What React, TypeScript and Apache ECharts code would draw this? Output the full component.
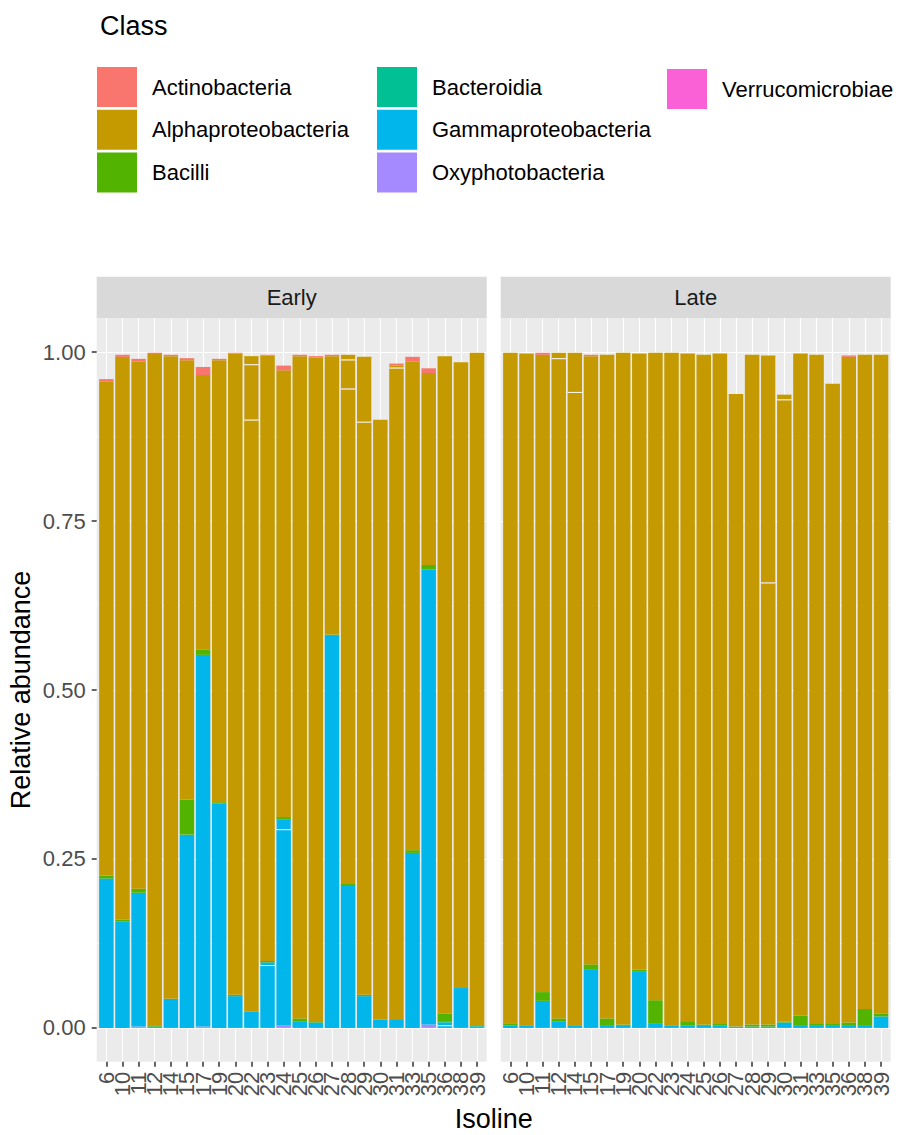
import React, { useEffect, useRef } from 'react';
import * as echarts from 'echarts';

// ---------- data ----------
const categories = ['6', '10', '11', '12', '14', '15', '17', '19', '20', '22', '23', '24', '25', '26', '27', '28', '29', '30', '31', '33', '35', '36', '38', '39'];
const panels = ['Early', 'Late'];
const classes = ['Actinobacteria', 'Alphaproteobacteria', 'Bacilli', 'Bacteroidia', 'Gammaproteobacteria', 'Oxyphotobacteria', 'Verrucomicrobiae'];
const classColors = ['#F8766D', '#C49A00', '#53B400', '#00C094', '#00B6EB', '#A58AFF', '#FB61D7'];
const yTickValues = [0, 0.25, 0.5, 0.75, 1];

// Early (second / third arrays of a class are extra rows of that class stacked above the first)
const earlyVerruco = [0, 0, 0, 0, 0, 0, 0, 0, 0, 0, 0, 0, 0, 0, 0, 0, 0, 0, 0, 0, 0, 0, 0, 0];
const earlyOxy = [0, 0, 0.002, 0, 0, 0, 0.002, 0, 0, 0, 0, 0.004, 0, 0, 0, 0, 0, 0, 0, 0, 0.005, 0, 0, 0];
const earlyGamma = [0.221, 0.158, 0.198, 0.002, 0.043, 0.286, 0.55, 0.332, 0.047, 0.024, 0.093, 0.29, 0.01, 0.008, 0.58, 0.21, 0.047, 0.012, 0.013, 0.259, 0.673, 0.004, 0.059, 0.002];
const earlyGamma2 = [0, 0, 0, 0, 0, 0, 0, 0, 0, 0, 0.004, 0.014, 0, 0, 0, 0, 0, 0, 0, 0, 0, 0.004, 0, 0];
const earlyBacteroidia = [0, 0, 0, 0, 0, 0, 0, 0, 0, 0, 0, 0, 0, 0, 0, 0, 0, 0, 0, 0, 0, 0.002, 0, 0.001];
const earlyBacilli = [0.004, 0.002, 0.006, 0.002, 0, 0.052, 0.008, 0.002, 0.002, 0, 0.002, 0.004, 0.004, 0.002, 0.002, 0.003, 0.002, 0, 0, 0.004, 0.007, 0.011, 0, 0];
const earlyAlpha = [0.732, 0.833, 0.78, 0.993, 0.951, 0.65, 0.406, 0.654, 0.949, 0.876, 0.896, 0.661, 0.98, 0.982, 0.412, 0.733, 0.848, 0.888, 0.964, 0.723, 0.284, 0.973, 0.926, 0.996];
const earlyAlpha2 = [0, 0, 0, 0, 0, 0, 0, 0, 0, 0.082, 0, 0, 0, 0, 0, 0.043, 0.096, 0, 0.003, 0, 0, 0, 0, 0];
const earlyAlpha3 = [0, 0, 0, 0, 0, 0, 0, 0, 0, 0.012, 0, 0, 0, 0, 0, 0.007, 0, 0, 0, 0, 0, 0, 0, 0];
const earlyActino = [0.003, 0.003, 0.004, 0.002, 0.002, 0.003, 0.012, 0.002, 0.001, 0, 0.001, 0.007, 0.002, 0.002, 0.002, 0, 0, 0, 0.003, 0.007, 0.007, 0, 0, 0];

// Late
const lateVerruco = [0, 0, 0, 0, 0, 0, 0, 0, 0, 0, 0, 0, 0, 0, 0, 0, 0, 0, 0, 0, 0, 0, 0, 0];
const lateOxy = [0, 0, 0, 0, 0, 0, 0, 0, 0, 0, 0, 0, 0, 0, 0, 0, 0, 0, 0, 0, 0, 0, 0, 0];
const lateGamma = [0.004, 0.003, 0.04, 0.01, 0.004, 0.087, 0.003, 0.003, 0.084, 0.006, 0.003, 0.004, 0.003, 0.004, 0.002, 0.002, 0.002, 0.008, 0.003, 0.003, 0.003, 0.003, 0.003, 0.017];
const lateGamma2 = [0, 0, 0, 0, 0, 0, 0, 0, 0, 0, 0, 0, 0, 0, 0, 0, 0, 0, 0, 0, 0, 0, 0, 0];
const lateBacteroidia = [0, 0, 0, 0, 0, 0, 0, 0, 0, 0, 0, 0, 0, 0, 0, 0, 0, 0, 0, 0, 0, 0, 0, 0];
const lateBacilli = [0.003, 0.001, 0.013, 0.004, 0, 0.007, 0.011, 0.002, 0.002, 0.035, 0.001, 0.006, 0.002, 0.003, 0, 0.003, 0.003, 0.001, 0.015, 0.004, 0.004, 0.005, 0.025, 0.004];
const lateAlpha = [0.992, 0.994, 0.943, 0.977, 0.937, 0.9, 0.982, 0.994, 0.912, 0.958, 0.995, 0.987, 0.991, 0.991, 0.936, 0.991, 0.654, 0.921, 0.98, 0.989, 0.946, 0.985, 0.968, 0.975];
const lateAlpha2 = [0, 0, 0, 0.008, 0.058, 0, 0, 0, 0, 0, 0, 0, 0, 0, 0, 0, 0.336, 0.007, 0, 0, 0, 0, 0, 0];
const lateAlpha3 = [0, 0, 0, 0, 0, 0, 0, 0, 0, 0, 0, 0, 0, 0, 0, 0, 0, 0, 0, 0, 0, 0, 0, 0];
const lateActino = [0, 0, 0.003, 0, 0, 0.002, 0, 0, 0, 0, 0, 0.001, 0, 0, 0, 0, 0, 0, 0, 0, 0, 0.002, 0, 0];

type Layer = { cls: number; data: number[]; seam: boolean };
// stacking order bottom -> top
const earlyLayers: Layer[] = [
  { cls: 6, data: earlyVerruco, seam: false },
  { cls: 5, data: earlyOxy, seam: false },
  { cls: 4, data: earlyGamma, seam: false },
  { cls: 4, data: earlyGamma2, seam: true },
  { cls: 3, data: earlyBacteroidia, seam: false },
  { cls: 2, data: earlyBacilli, seam: false },
  { cls: 1, data: earlyAlpha, seam: false },
  { cls: 1, data: earlyAlpha2, seam: true },
  { cls: 1, data: earlyAlpha3, seam: true },
  { cls: 0, data: earlyActino, seam: false },
];
const lateLayers: Layer[] = [
  { cls: 6, data: lateVerruco, seam: false },
  { cls: 5, data: lateOxy, seam: false },
  { cls: 4, data: lateGamma, seam: false },
  { cls: 4, data: lateGamma2, seam: true },
  { cls: 3, data: lateBacteroidia, seam: false },
  { cls: 2, data: lateBacilli, seam: false },
  { cls: 1, data: lateAlpha, seam: false },
  { cls: 1, data: lateAlpha2, seam: true },
  { cls: 1, data: lateAlpha3, seam: true },
  { cls: 0, data: lateActino, seam: false },
];
const panelLayers = [earlyLayers, lateLayers];

// ---------- layout ----------
const FONT = "'Liberation Sans', Arial, Helvetica, sans-serif";
const PANEL_LEFT = [96.7, 500.7];
const PANEL_W = 390;
const PANEL_TOP = 318.3;
const PANEL_H = 743.4;
const Y_MIN = -0.05;
const Y_MAX = 1.05;
const UNIT = PANEL_W / (categories.length + 0.2); // discrete expansion 0.6 each side
const STRIP_TOP = 276.7;
const yPix = (v: number) => PANEL_TOP + ((Y_MAX - v) / (Y_MAX - Y_MIN)) * PANEL_H;

function buildOption() {
  const grid: any[] = [];
  const xAxis: any[] = [];
  const yAxis: any[] = [];
  const series: any[] = [];
  const graphic: any[] = [];

  panels.forEach((panel, p) => {
    const L = PANEL_LEFT[p];
    const base = grid.length;
    // 0: panel background
    grid.push({ left: L, top: PANEL_TOP, width: PANEL_W, height: PANEL_H, show: true, backgroundColor: '#EBEBEB', borderWidth: 0, z: -1 });
    xAxis.push({ gridIndex: base, type: 'value', show: false });
    yAxis.push({ gridIndex: base, type: 'value', show: false });
    // 1: horizontal grid lines + y labels
    grid.push({ left: L, top: yPix(1), width: PANEL_W, height: yPix(0) - yPix(1), show: false });
    xAxis.push({ gridIndex: base + 1, type: 'value', show: false });
    yAxis.push({
      gridIndex: base + 1,
      type: 'value',
      min: yTickValues[0],
      max: yTickValues[yTickValues.length - 1],
      interval: 0.25,
      axisLine: { show: false },
      axisTick: { show: p === 0, length: 5, lineStyle: { color: '#333333', width: 1.5 } },
      axisLabel: {
        show: p === 0,
        margin: 11,
        fontSize: 22,
        fontFamily: FONT,
        color: '#4D4D4D',
        formatter: (v: number) => v.toFixed(2),
      },
      splitLine: { show: true, lineStyle: { color: '#FFFFFF', width: 1.1 } },
      minorTick: { show: false, splitNumber: 2 },
      minorSplitLine: { show: true, lineStyle: { color: '#FFFFFF', width: 0.55 } },
    });
    // 2: vertical grid lines + x labels (from first to last category centre)
    grid.push({ left: L + 0.6 * UNIT, top: PANEL_TOP, width: (categories.length - 1) * UNIT, height: PANEL_H, show: false });
    xAxis.push({
      gridIndex: base + 2,
      type: 'category',
      data: categories,
      boundaryGap: false,
      axisLine: { show: false },
      axisTick: { show: true, interval: 0, length: 5, lineStyle: { color: '#333333', width: 1.5 } },
      axisLabel: { interval: 0, rotate: 90, margin: 10, fontSize: 22, fontFamily: FONT, color: '#4D4D4D' },
      splitLine: { show: true, interval: 0, lineStyle: { color: '#FFFFFF', width: 1.1 } },
    });
    yAxis.push({ gridIndex: base + 2, type: 'value', show: false });
    // 3: bars
    grid.push({ left: L + 0.1 * UNIT, top: PANEL_TOP, width: categories.length * UNIT, height: PANEL_H, show: false });
    xAxis.push({ gridIndex: base + 3, type: 'category', data: categories, boundaryGap: true, show: false });
    yAxis.push({ gridIndex: base + 3, type: 'value', min: Y_MIN, max: Y_MAX, show: false });

    panelLayers[p].forEach((layer) => {
      series.push({
        type: 'bar',
        name: classes[layer.cls],
        xAxisIndex: base + 3,
        yAxisIndex: base + 3,
        stack: 'panel' + p,
        barWidth: '90%',
        data: layer.data.map((v) => (v === 0 ? null : v)),
        itemStyle: layer.seam
          ? {
              color: classColors[layer.cls],
              borderWidth: 0,
              shadowColor: 'rgba(255,255,255,0.9)',
              shadowBlur: 0,
              shadowOffsetX: 0,
              shadowOffsetY: 1,
            }
          : { color: classColors[layer.cls], borderWidth: 0 },
        emphasis: { disabled: true },
        silent: true,
      });
    });

    // facet strip
    graphic.push({
      type: 'rect',
      shape: { x: L, y: STRIP_TOP, width: PANEL_W, height: PANEL_TOP - STRIP_TOP },
      style: { fill: '#D9D9D9' },
      silent: true,
    });
    graphic.push({
      type: 'text',
      x: L + PANEL_W / 2,
      y: (STRIP_TOP + PANEL_TOP) / 2,
      style: { text: panel, fontSize: 22, fontFamily: FONT, fill: '#1A1A1A', align: 'center', verticalAlign: 'middle' },
      silent: true,
    });
  });

  // axis titles and legend title
  graphic.push({
    type: 'text',
    x: (PANEL_LEFT[0] + PANEL_LEFT[1] + PANEL_W) / 2,
    y: 1119,
    style: { text: 'Isoline', fontSize: 27, fontFamily: FONT, fill: '#000000', align: 'center', verticalAlign: 'middle' },
    silent: true,
  });
  graphic.push({
    type: 'text',
    x: 21,
    y: PANEL_TOP + PANEL_H / 2,
    rotation: Math.PI / 2,
    style: { text: 'Relative abundance', fontSize: 27, fontFamily: FONT, fill: '#000000', align: 'center', verticalAlign: 'middle' },
    silent: true,
  });
  graphic.push({
    type: 'text',
    x: 100,
    y: 26,
    style: { text: 'Class', fontSize: 27, fontFamily: FONT, fill: '#000000', align: 'left', verticalAlign: 'middle' },
    silent: true,
  });

  const legendBase = {
    orient: 'vertical',
    padding: 0,
    icon: 'rect',
    itemWidth: 40,
    itemHeight: 40,
    itemGap: 2.7,
    selectedMode: false,
    itemStyle: { borderWidth: 0, shadowBlur: 0, shadowOffsetY: 0, shadowColor: 'rgba(0,0,0,0)' },
    textStyle: { fontSize: 22, fontFamily: FONT, color: '#000000', padding: [0, 0, 0, 10] },
  };
  const legend = [
    { ...legendBase, data: classes.slice(0, 3), left: 97, top: 67 },
    { ...legendBase, data: classes.slice(3, 6), left: 377, top: 67 },
    { ...legendBase, data: classes.slice(6), left: 667, top: 69 },
  ];

  return {
    animation: false,
    backgroundColor: '#FFFFFF',
    textStyle: { fontFamily: FONT },
    grid,
    xAxis,
    yAxis,
    series,
    legend,
    graphic,
  };
}

export default function App() {
  const ref = useRef<HTMLDivElement>(null);
  useEffect(() => {
    document.body.style.margin = '0';
    if (!ref.current) return;
    const chart = echarts.init(ref.current, undefined, { renderer: 'svg' });
    chart.setOption(buildOption() as any);
    return () => {
      chart.dispose();
    };
  }, []);
  return <div ref={ref} style={{ width: 902, height: 1135 }} />;
}
